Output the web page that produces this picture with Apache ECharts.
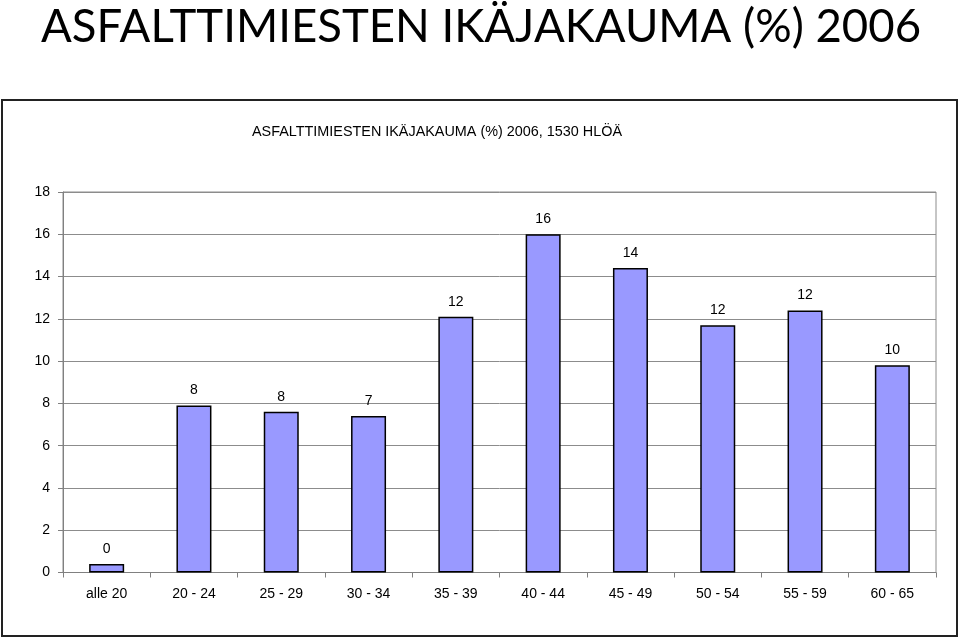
<!DOCTYPE html>
<html>
<head>
<meta charset="utf-8">
<script src="https://cdn.jsdelivr.net/npm/echarts@6/dist/echarts.min.js"></script>
<style>html,body{margin:0;padding:0;background:#fff}#c{width:960px;height:638px}</style>
</head>
<body>
<div id="c"></div>
<script>
const categories = ['alle 20', '20 - 24', '25 - 29', '30 - 34', '35 - 39', '40 - 44', '45 - 49', '50 - 54', '55 - 59', '60 - 65'];
const values = [0.4, 7.9, 7.6, 7.4, 12.1, 16.0, 14.4, 11.7, 12.4, 9.8];
const mainTitle = 'ASFALTTIMIESTEN IKÄJAKAUMA (%) 2006';
const chartTitle = 'ASFALTTIMIESTEN IKÄJAKAUMA (%) 2006, 1530 HLÖÄ';

const chart = echarts.init(document.getElementById('c'), null, {renderer: 'canvas'});
chart.setOption({
  animation: false,
  backgroundColor: '#fff',
  title: [
    {text: mainTitle, left: 36, top: -1, textStyle: {fontFamily: 'Lato', fontWeight: 'normal', fontSize: 45.5, color: '#000'}},
    {text: chartTitle, left: 247, top: 120, textStyle: {fontFamily: 'Liberation Sans', fontWeight: 'normal', fontSize: 14.4, color: '#000'}}
  ],
  graphic: [
    {type: 'rect', shape: {x: 2, y: 100, width: 955, height: 536}, style: {fill: 'none', stroke: '#222', lineWidth: 2}, silent: true}
  ],
  grid: {left: 63, top: 192, right: 24, bottom: 65.5, show: true, borderColor: '#8c8c8c', borderWidth: 1, backgroundColor: 'transparent'},
  xAxis: {
    type: 'category', data: categories,
    axisLine: {lineStyle: {color: '#808080', width: 1}},
    axisTick: {show: true, alignWithLabel: false, length: 5, lineStyle: {color: '#808080'}},
    axisLabel: {color: '#000', fontFamily: 'Liberation Sans', fontSize: 14, margin: 15},
    splitLine: {show: false}
  },
  yAxis: {
    type: 'value', min: 0, max: 18, interval: 2,
    axisLine: {show: true, lineStyle: {color: '#808080', width: 1}},
    axisTick: {show: true, length: 5, lineStyle: {color: '#808080'}},
    axisLabel: {color: '#000', fontFamily: 'Liberation Sans', fontSize: 14, margin: 13},
    splitLine: {show: true, lineStyle: {color: '#8c8c8c', width: 1}}
  },
  series: [{
    type: 'bar', data: values, barWidth: 35,
    itemStyle: {color: '#9999FF', borderColor: '#000', borderWidth: 1.5},
    label: {show: true, position: 'top', distance: 8, color: '#000', fontFamily: 'Liberation Sans', fontSize: 14,
      formatter: p => Math.round(p.value)}
  }]
});
</script>
</body>
</html>
